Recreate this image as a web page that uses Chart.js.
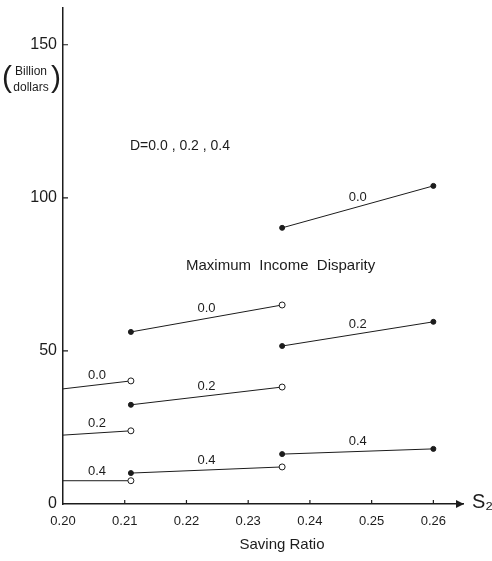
<!DOCTYPE html>
<html>
<head>
<meta charset="utf-8">
<script src="https://cdn.jsdelivr.net/npm/chart.js@4/dist/chart.umd.min.js"></script>
<style>
  html, body { margin: 0; padding: 0; background: #fff; }
  #wrap { width: 492px; height: 561px; position: relative; }
</style>
</head>
<body>
<div id="wrap"><canvas id="chart" width="492" height="561"></canvas></div>
<script>
// saving ratio ranges of the three branches
const sLow  = [0.20, 0.211];
const sMid  = [0.211, 0.2355];
const sHigh = [0.2355, 0.26];

// income (billion dollars) for D = 0.0, 0.2, 0.4
const lowD00  = [37.6, 40.2];
const lowD02  = [22.5, 23.9];
const lowD04  = [7.6, 7.6];
const midD00  = [56.2, 65.0];
const midD02  = [32.4, 38.2];
const midD04  = [10.1, 12.1];
const highD00 = [90.2, 103.9];
const highD02 = [51.6, 59.5];
const highD04 = [16.3, 18.0];

const dLabels = ['0.0', '0.2', '0.4'];
const yTicks = [0, 50, 100, 150];
const xTicks = [0.20, 0.21, 0.22, 0.23, 0.24, 0.25, 0.26];

const ink = '#1c1c1c';
const font = "'Liberation Sans', 'DejaVu Sans', sans-serif";

function seg(xs, ys, label, kind) {
	var radius, fill;
	if (kind == 'low') { radius = [0, 3]; fill = [ink, '#fff']; }
	else if (kind == 'mid') { radius = [2.5, 3]; fill = [ink, '#fff']; }
	else { radius = [2.5, 2.5]; fill = [ink, ink]; }
	return {
		label: label,
		data: xs.map(function (x, i) { return { x: x, y: ys[i] } }),
		showLine: true,
		borderColor: ink,
		borderWidth: 1,
		pointRadius: radius,
		pointBackgroundColor: fill,
		pointBorderColor: ink,
		pointBorderWidth: 1
	}
}

var datasets = [
	seg(sLow, lowD00, dLabels[0], 'low'),
	seg(sLow, lowD02, dLabels[1], 'low'),
	seg(sLow, lowD04, dLabels[2], 'low'),
	seg(sMid, midD00, dLabels[0], 'mid'),
	seg(sMid, midD02, dLabels[1], 'mid'),
	seg(sMid, midD04, dLabels[2], 'mid'),
	seg(sHigh, highD00, dLabels[0], 'high'),
	seg(sHigh, highD02, dLabels[1], 'high'),
	seg(sHigh, highD04, dLabels[2], 'high')
];

// tick marks, arrow, segment labels and notes
const decor = {
	id: 'decor',
	afterDraw: function (chart) {
		var ctx = chart.ctx, xs = chart.scales.x, ys = chart.scales.y, area = chart.chartArea;
		ctx.save();
		ctx.strokeStyle = ink;
		ctx.fillStyle = ink;
		ctx.lineWidth = 1.2;
		ctx.beginPath();
		yTicks.slice(1).forEach(function (v) {
			var py = ys.getPixelForValue(v);
			ctx.moveTo(area.left, py); ctx.lineTo(area.left + 5, py);
		});
		xTicks.slice(1).forEach(function (v) {
			var px = xs.getPixelForValue(v);
			ctx.moveTo(px, area.bottom); ctx.lineTo(px, area.bottom - 4);
		});
		ctx.stroke();

		// arrow head on the S2 axis
		ctx.beginPath();
		ctx.moveTo(area.right + 1, area.bottom);
		ctx.lineTo(area.right - 7, area.bottom - 4);
		ctx.lineTo(area.right - 7, area.bottom + 4);
		ctx.closePath();
		ctx.fill();

		// D labels above each segment
		ctx.font = '13px ' + font;
		ctx.textAlign = 'center';
		ctx.textBaseline = 'alphabetic';
		chart.data.datasets.forEach(function (ds) {
			var a = ds.data[0], b = ds.data[1];
			var px = xs.getPixelForValue((a.x + b.x) / 2);
			var py = ys.getPixelForValue((a.y + b.y) / 2);
			ctx.fillText(ds.label, px, py - 6);
		});

		ctx.font = '14px ' + font;
		ctx.textAlign = 'left';
		ctx.textBaseline = 'middle';
		ctx.fillText('D=0.0 , 0.2 , 0.4', 130, 146);
		ctx.font = '15px ' + font;
		ctx.fillText('Maximum  Income  Disparity', 186, 266);

		// unit label in tall brackets
		ctx.textAlign = 'center';
		ctx.font = '12px ' + font;
		ctx.fillText('Billion', 31, 72);
		ctx.fillText('dollars', 31, 88);
		ctx.font = '30px ' + font;
		ctx.fillText('(', 7, 79);
		ctx.fillText(')', 56, 79);

		ctx.font = '15px ' + font;
		ctx.fillText('Saving Ratio', 282, 545);
		ctx.font = '20px ' + font;
		ctx.textAlign = 'left';
		ctx.fillText('S\u2082', 472, 502);
		ctx.restore();
	}
};

new Chart(document.getElementById('chart'), {
	type: 'scatter',
	data: { datasets: datasets },
	plugins: [decor],
	options: {
		responsive: false,
		animation: false,
		layout: { padding: { top: 8, right: 29, left: 0, bottom: 0 } },
		plugins: {
			legend: { display: false },
			tooltip: { enabled: false }
		},
		scales: {
			x: {
				type: 'linear',
				min: 0.20,
				max: 0.2648,
				afterFit: function (scale) {
					scale.height = 57;
					scale.paddingLeft = 0; scale.paddingRight = 0;
				},
				grid: { display: false, drawTicks: false },
				border: { display: true, color: ink, width: 1.5 },
				ticks: {
					stepSize: 0.01,
					includeBounds: false,
					padding: 10,
					color: ink,
					font: { family: font, size: 13 },
					maxRotation: 0,
					callback: function (v) { return v <= 0.2605 ? v.toFixed(2) : '' }
				}
			},
			y: {
				min: 0,
				max: 162,
				afterFit: function (scale) {
					scale.width = 63;
					scale.paddingTop = 0; scale.paddingBottom = 0;
				},
				grid: { display: false, drawTicks: false },
				border: { display: true, color: ink, width: 1.5 },
				ticks: {
					stepSize: 50,
					includeBounds: false,
					padding: 6,
					color: ink,
					font: { family: font, size: 16 }
				}
			}
		}
	}
});
</script>
</body>
</html>
